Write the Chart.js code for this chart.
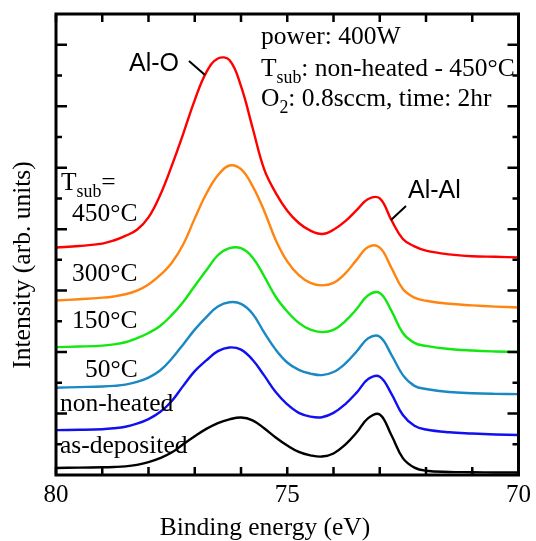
<!DOCTYPE html>
<html>
<head>
<meta charset="utf-8">
<script src="https://cdn.jsdelivr.net/npm/chart.js@4.4.0/dist/chart.umd.min.js"></script>
<style>
  html, body { margin: 0; padding: 0; background: #fff; }
  #wrap { width: 536px; height: 541px; position: relative; }
</style>
</head>
<body>
<div id="wrap"><canvas id="chart" width="536" height="541"></canvas></div>
<script>
// binding energy grid (eV)
const energy = [80, 79.5, 79, 78.75, 78.5, 78.25, 78, 77.75, 77.5, 77.25, 77, 76.75, 76.5, 76.25, 76, 75.75, 75.5, 75.25, 75,
  74.75, 74.5, 74.25, 74, 73.75, 73.5, 73.25, 73, 72.75, 72.5, 72.25, 72, 71.5, 71, 70.5, 70];

// stacked spectra (arb. units, already offset)
const t450 = [7.40, 7.45, 7.53, 7.63, 7.78, 7.98, 8.38, 9.1, 10.05, 11.1, 12.2, 13.1, 13.55, 13.5, 12.65, 11.3, 9.95, 9.18, 8.6,
  8.2, 7.95, 7.84, 7.98, 8.25, 8.62, 8.98, 9.0, 8.3, 7.68, 7.44, 7.3, 7.18, 7.12, 7.1, 7.08];
const t300 = [5.68, 5.72, 5.77, 5.81, 5.88, 6.0, 6.2, 6.5, 6.9, 7.5, 8.35, 9.15, 9.75, 10.07, 9.95, 9.4, 8.6, 7.65, 6.95,
  6.5, 6.25, 6.17, 6.25, 6.55, 7.0, 7.42, 7.4, 6.75, 6.05, 5.77, 5.67, 5.57, 5.52, 5.48, 5.45];
const t150 = [4.16, 4.18, 4.21, 4.25, 4.32, 4.45, 4.62, 4.85, 5.2, 5.63, 6.15, 6.66, 7.15, 7.38, 7.38, 7.08, 6.47, 5.8, 5.32,
  4.95, 4.73, 4.65, 4.72, 5.0, 5.4, 5.85, 5.92, 5.35, 4.62, 4.3, 4.2, 4.1, 4.05, 4.02, 4.0];
const t50 = [2.84, 2.86, 2.88, 2.9, 2.94, 3.03, 3.17, 3.4, 3.78, 4.25, 4.73, 5.14, 5.48, 5.62, 5.57, 5.25, 4.64, 4.08, 3.66,
  3.42, 3.3, 3.25, 3.35, 3.62, 4.02, 4.45, 4.5, 3.92, 3.25, 2.9, 2.8, 2.7, 2.66, 2.64, 2.63];
const nonHeated = [1.46, 1.47, 1.49, 1.52, 1.57, 1.67, 1.82, 2.05, 2.4, 2.9, 3.38, 3.73, 4.03, 4.15, 4.08, 3.75, 3.24, 2.7, 2.3,
  2.02, 1.9, 1.88, 2.02, 2.3, 2.68, 3.12, 3.2, 2.65, 1.95, 1.6, 1.48, 1.39, 1.35, 1.32, 1.3];
const asDeposited = [0.23, 0.24, 0.25, 0.26, 0.28, 0.33, 0.42, 0.55, 0.73, 1.0, 1.26, 1.5, 1.69, 1.81, 1.87, 1.78, 1.52, 1.22, 0.96,
  0.75, 0.64, 0.6, 0.7, 0.98, 1.38, 1.85, 1.97, 1.3, 0.55, 0.24, 0.14, 0.1, 0.09, 0.08, 0.08];

const xTicks = [80, 75, 70];

const serif = '"Liberation Serif", "Times New Roman", serif';
const sans = '"Liberation Sans", Arial, sans-serif';

function pts(arr) {
  return arr.map((v, i) => ({ x: energy[i], y: v }));
}

function series(label, arr, color) {
  return {
    label: label,
    data: pts(arr),
    borderColor: color,
    borderWidth: 2.4,
    pointRadius: 0,
    fill: false,
    tension: 0.4
  };
}

// text with a subscript part
function subText(ctx, x, y, parts, size) {
  parts.forEach(p => {
    const s = p.sub ? size * 0.7 : size;
    ctx.font = s + 'px ' + serif;
    ctx.fillText(p.t, x, p.sub ? y + size * 0.28 : y);
    x += ctx.measureText(p.t).width;
  });
}

const frame = {
  id: 'frame',
  afterDraw(chart) {
    const ctx = chart.ctx;
    const a = chart.chartArea;
    const xs = chart.scales.x, ys = chart.scales.y;
    ctx.save();
    ctx.strokeStyle = '#000';
    // inward ticks, both sides
    ctx.lineWidth = 2.5;
    ctx.beginPath();
    for (let e = 70; e <= 80; e++) {
      const px = xs.getPixelForValue(e);
      const len = 8;
      ctx.moveTo(px, a.bottom); ctx.lineTo(px, a.bottom - len);
      ctx.moveTo(px, a.top); ctx.lineTo(px, a.top + len);
    }
    for (let v = 1; v <= 14; v++) {
      const py = ys.getPixelForValue(v);
      const len = v % 2 === 0 ? 11 : 6;
      ctx.moveTo(a.left, py); ctx.lineTo(a.left + len, py);
      ctx.moveTo(a.right, py); ctx.lineTo(a.right - len, py);
    }
    ctx.stroke();
    ctx.lineWidth = 3;
    ctx.strokeRect(a.left, a.top, a.right - a.left, a.bottom - a.top);

    const fs = 25.5;
    // axis titles
    ctx.fillStyle = '#000';
    ctx.font = fs + 'px ' + serif;
    ctx.textAlign = 'center';
    ctx.textBaseline = 'alphabetic';
    ctx.fillText('Binding energy (eV)', 265, 535);
    ctx.save();
    ctx.translate(30, 265);
    ctx.rotate(-Math.PI / 2);
    ctx.fillText('Intensity (arb. units)', 0, 0);
    ctx.restore();

    // sample labels
    ctx.textAlign = 'left';
    subText(ctx, 61, 190, [{ t: 'T' }, { t: 'sub', sub: true }, { t: '=' }], fs);
    ctx.font = fs + 'px ' + serif;
    ctx.fillText('450°C', 72, 221);
    ctx.fillText('300°C', 72, 281);
    ctx.fillText('150°C', 72, 328);
    ctx.fillText('50°C', 85, 377);
    ctx.fillText('non-heated', 60, 411);
    ctx.fillText('as-deposited', 60, 453);

    // conditions
    ctx.fillText('power: 400W', 261, 44);
    subText(ctx, 261, 76, [{ t: 'T' }, { t: 'sub', sub: true }, { t: ': non-heated - 450°C' }], fs);
    subText(ctx, 261, 106, [{ t: 'O' }, { t: '2', sub: true }, { t: ': 0.8sccm, time: 2hr' }], fs);

    // peak names
    ctx.font = '25px ' + sans;
    ctx.fillText('Al-O', 129, 71);
    ctx.fillText('Al-Al', 408, 198);
    ctx.lineWidth = 2;
    ctx.beginPath();
    ctx.moveTo(189, 61); ctx.lineTo(205, 75);
    ctx.moveTo(406, 206); ctx.lineTo(391, 220);
    ctx.stroke();
    ctx.restore();
  }
};

new Chart(document.getElementById('chart').getContext('2d'), {
  type: 'line',
  data: {
    datasets: [
      series('450°C', t450, '#ff0000'),
      series('300°C', t300, '#ff8510'),
      series('150°C', t150, '#10e810'),
      series('50°C', t50, '#1a88c4'),
      series('non-heated', nonHeated, '#1010f0'),
      series('as-deposited', asDeposited, '#000000')
    ]
  },
  options: {
    responsive: false,
    animation: false,
    layout: { padding: { top: 14, right: 16, left: 0, bottom: 0 } },
    plugins: { legend: { display: false }, tooltip: { enabled: false } },
    scales: {
      x: {
        type: 'linear',
        min: 70,
        max: 80,
        reverse: true,
        afterFit(scale) { scale.height = 66; },
        afterBuildTicks(scale) { scale.ticks = xTicks.map(v => ({ value: v })); },
        grid: { display: false, drawTicks: false },
        border: { display: false },
        ticks: {
          color: '#000',
          font: { family: serif, size: 25 },
          padding: 5,
          maxRotation: 0,
          autoSkip: false,
          callback: v => String(v)
        }
      },
      y: {
        min: 0,
        max: 15,
        afterFit(scale) { scale.width = 56; },
        grid: { display: false, drawTicks: false },
        border: { display: false },
        ticks: { display: false, stepSize: 1 }
      }
    }
  },
  plugins: [frame]
});
</script>
</body>
</html>
